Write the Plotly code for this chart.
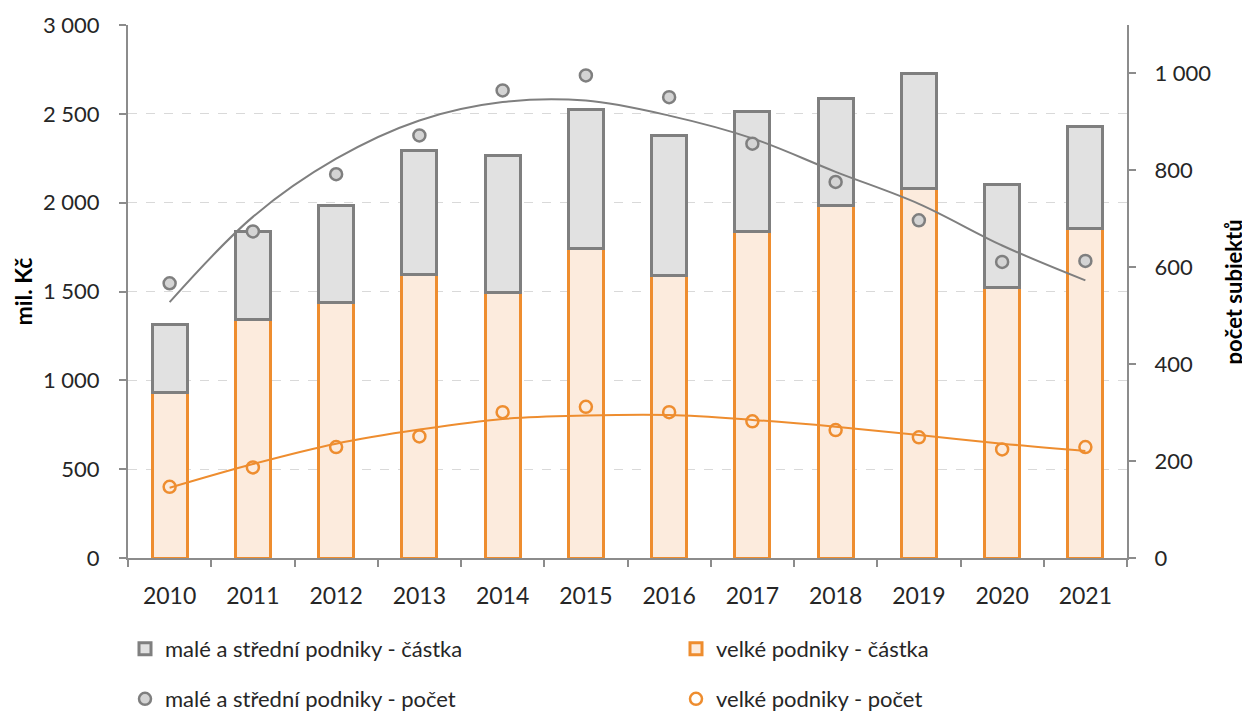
import plotly.graph_objects as go

# data
years = ["2010", "2011", "2012", "2013", "2014", "2015", "2016", "2017", "2018", "2019", "2020", "2021"]
velke_castka = [932, 1343, 1438, 1598, 1497, 1740, 1588, 1835, 1982, 2078, 1520, 1852]
male_castka = [383, 492, 545, 695, 767, 783, 788, 676, 602, 647, 585, 577]
male_pocet = [567, 674, 792, 872, 965, 996, 951, 855, 776, 697, 611, 613]
velke_pocet = [147, 187, 229, 251, 301, 312, 301, 282, 264, 249, 224, 229]
# polynomial trend lines as drawn in the original
male_trend = [528, 704, 824, 903, 941, 944, 913, 866, 797, 731, 645, 573]
velke_trend = [145, 194, 236, 265, 287, 294, 295, 285, 271, 254, 236, 221]

left_ticks = [0, 500, 1000, 1500, 2000, 2500, 3000]
left_labels = ["0", "500", "1 000", "1 500", "2 000", "2 500", "3 000"]
right_ticks = [0, 200, 400, 600, 800, 1000]
right_labels = ["0", "200", "400", "600", "800", "1 000"]

GRAY = "#7f7f7f"
GRAY_FILL = "#e1e1e1"
ORANGE = "#ee8d2f"
ORANGE_FILL = "#fcebdd"
AXIS = "#8c8c8c"
TEXT = "#262626"
FONT = "Lato"

# the page puts the figure 8 px in from the corner, so it is drawn a bit smaller
W, H = 1242, 706

fig = go.Figure()

fig.add_trace(go.Bar(x=years, y=velke_castka, name="velké podniky - částka",
                     marker=dict(color=ORANGE_FILL, line=dict(color=ORANGE, width=3)),
                     legend="legend2"))
fig.add_trace(go.Bar(x=years, y=male_castka, name="malé a střední podniky - částka",
                     marker=dict(color=GRAY_FILL, line=dict(color=GRAY, width=3)),
                     legend="legend"))

# trend lines (secondary axis)
fig.add_trace(go.Scatter(x=years, y=male_trend, mode="lines", yaxis="y2", showlegend=False,
                         line=dict(color=GRAY, width=2, shape="spline"), hoverinfo="skip"))
fig.add_trace(go.Scatter(x=years, y=velke_trend, mode="lines", yaxis="y2", showlegend=False,
                         line=dict(color=ORANGE, width=2, shape="spline"), hoverinfo="skip"))

# counts (secondary axis)
fig.add_trace(go.Scatter(x=years, y=male_pocet, mode="markers", yaxis="y2",
                         name="malé a střední podniky - počet", legend="legend3",
                         marker=dict(symbol="circle", size=12, color="#d4d4d4",
                                     line=dict(color=GRAY, width=2.5))))
fig.add_trace(go.Scatter(x=years, y=velke_pocet, mode="markers", yaxis="y2",
                         name="velké podniky - počet", legend="legend4",
                         marker=dict(symbol="circle", size=12, color="rgba(255,255,255,0)",
                                     line=dict(color=ORANGE, width=2.5))))

legend_style = dict(orientation="h", xref="container", yref="container", xanchor="left",
                    yanchor="middle", font=dict(family=FONT, size=22, color=TEXT),
                    bgcolor="rgba(0,0,0,0)", itemwidth=30)
col1, col2 = 117 / W, 668 / W
row1, row2 = 1 - 641 / H, 1 - 691 / H

fig.update_layout(
    width=W, height=H,
    margin=dict(l=120, r=123, t=17, b=156, autoexpand=False),
    barmode="stack",
    bargap=0.58,
    plot_bgcolor="white",
    paper_bgcolor="white",
    font=dict(family=FONT, size=20, color=TEXT),
    showlegend=True,
    legend=dict(legend_style, x=col1, y=row1),
    legend2=dict(legend_style, x=col2, y=row1),
    legend3=dict(legend_style, x=col1, y=row2),
    legend4=dict(legend_style, x=col2, y=row2),
    xaxis=dict(type="category", range=[-0.5, len(years) - 0.5],
               showline=True, linecolor=AXIS, linewidth=2, automargin=False,
               ticks="outside", tickson="boundaries", ticklen=7, tickcolor=AXIS, tickwidth=2,
               ticklabelstandoff=16, tickfont=dict(size=23), showgrid=False),
    yaxis=dict(range=[0, 3000], tickvals=left_ticks, ticktext=left_labels, automargin=False,
               showline=True, linecolor=AXIS, linewidth=2, ticks="outside", ticklen=7,
               tickcolor=AXIS, tickwidth=2, ticklabelstandoff=15, tickfont=dict(size=22),
               showgrid=True, gridcolor="#d9d9d9", griddash="dash", gridwidth=1,
               zeroline=False),
    yaxis2=dict(range=[0, 1100], tickvals=right_ticks, ticktext=right_labels, automargin=False,
                overlaying="y", side="right", showline=True, linecolor=AXIS, linewidth=2,
                ticks="outside", ticklen=7, tickcolor=AXIS, tickwidth=2, ticklabelstandoff=14,
                tickfont=dict(size=22), showgrid=False, zeroline=False),
    annotations=[
        dict(text="<b>mil. Kč</b>", textangle=-90, xref="paper", yref="paper",
             x=(22 - 128) / 1000, y=0.5, showarrow=False, font=dict(size=23, color="black"),
             xanchor="center", yanchor="middle"),
        dict(text="<b>počet subjektů</b>", textangle=-90, xref="paper", yref="paper",
             x=(1235 - 128) / 1000, y=0.5, showarrow=False, font=dict(size=22, color="black"),
             xanchor="center", yanchor="middle"),
    ],
)

fig.write_html("out.html")
